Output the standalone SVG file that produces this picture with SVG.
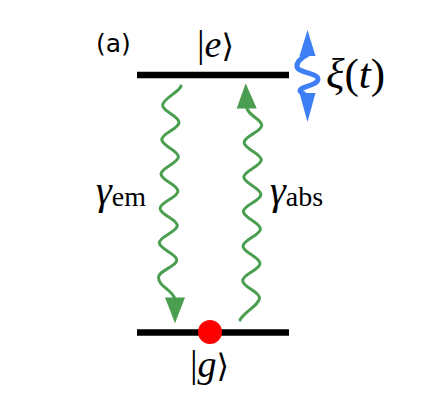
<svg xmlns="http://www.w3.org/2000/svg" width="427" height="412" viewBox="0 0 427 412">
<style>
.lvl{stroke:#000;stroke-width:6.5;fill:none}
.wave{stroke:#4a9e4f;stroke-width:3;fill:none;stroke-linecap:round;stroke-linejoin:round}
.gh{fill:#4a9e4f}
.bl{fill:#3f7ff6}
.math{font-family:"Liberation Serif","DejaVu Serif",serif;fill:#000}
.sans{font-family:"DejaVu Sans","Liberation Sans",sans-serif;fill:#000}
</style>
<rect width="427" height="412" fill="#fff"/>
<g id="level-e">
<line class="lvl" x1="137" y1="75" x2="289" y2="75"/>
<text class="math" x="197" y="57" font-size="38">|<tspan font-style="italic">e</tspan><tspan font-family="DejaVu Serif, serif" font-size="32">⟩</tspan></text>
</g>
<g id="level-g">
<line class="lvl" x1="137" y1="332.5" x2="289" y2="332.5"/>
<circle cx="210" cy="332" r="12" fill="#ff0000"/>
<text class="math" x="190" y="377" font-size="38">|<tspan font-style="italic">g</tspan><tspan font-family="DejaVu Serif, serif" font-size="32">⟩</tspan></text>
</g>
<g id="label-a">
<text class="sans" x="96" y="52" font-size="25">(a)</text>
</g>
<g id="drive">
<path d="M308,54 C301,58 296,62 297,67 C299,73 318,73 318,79 C318,86 300,86 300,91 L305,95" stroke="#3f7ff6" stroke-width="5" fill="none" stroke-linejoin="round" stroke-linecap="round"/>
<polygon class="bl" points="307.5,30 299.5,56 315.5,56"/>
<polygon class="bl" points="307.5,122 299.5,93 315.5,93"/>
<text class="math" x="326" y="88" font-size="43"><tspan font-style="italic">ξ</tspan>(<tspan font-style="italic">t</tspan>)</text>
</g>
<g id="connectors">
<g id="emission">
<path class="wave" d="M181,86 C180.5,91 162.6,99 162.6,105.2 C162.6,111.5 179,116.1 179,122.4 C179,128.7 161.8,133.3 161.8,139.6 C161.8,145.9 178.4,150.5 178.4,156.8 C178.4,163.1 161,167.7 161,174 C161,180.3 177.9,184.9 177.9,191.2 C177.9,197.5 160.1,202.1 160.1,208.4 C160.1,214.7 177.3,219.3 177.3,225.6 C177.3,231.9 159.3,236.5 159.3,242.8 C159.3,249.1 176.8,253.7 176.8,260 C176.8,266.3 158.5,270.9 158.5,277.2 C158.5,287 172,289 175,299"/>
<polygon class="gh" points="175,323.3 165,297.5 185,297.5"/>
<text class="math" x="96" y="204" font-size="40"><tspan font-style="italic">γ</tspan><tspan font-size="28" dy="2">em</tspan></text>
</g>
<g id="absorption">
<path class="wave" d="M240,320 C244,312 259.5,305 259.5,298 C259.5,291.7 242.7,287 242.7,280.7 C242.7,274.4 260,269.8 260,263.5 C260,257.2 243,252.5 243,246.2 C243,239.9 260.4,235.2 260.4,228.9 C260.4,222.6 243.4,217.9 243.4,211.6 C243.4,205.3 260.9,200.7 260.9,194.4 C260.9,188.1 243.8,183.4 243.8,177.1 C243.8,170.8 261.3,166.1 261.3,159.8 C261.3,153.5 244.1,148.8 244.1,142.5 C244.1,136.2 261.8,131.6 261.8,125.3 C261.8,119 246.5,115 246.5,106"/>
<polygon class="gh" points="245.7,83.3 236.7,108.5 256.7,108.5"/>
<text class="math" x="270" y="204" font-size="40"><tspan font-style="italic">γ</tspan><tspan font-size="28" dy="2">abs</tspan></text>
</g>
</g>
</svg>
